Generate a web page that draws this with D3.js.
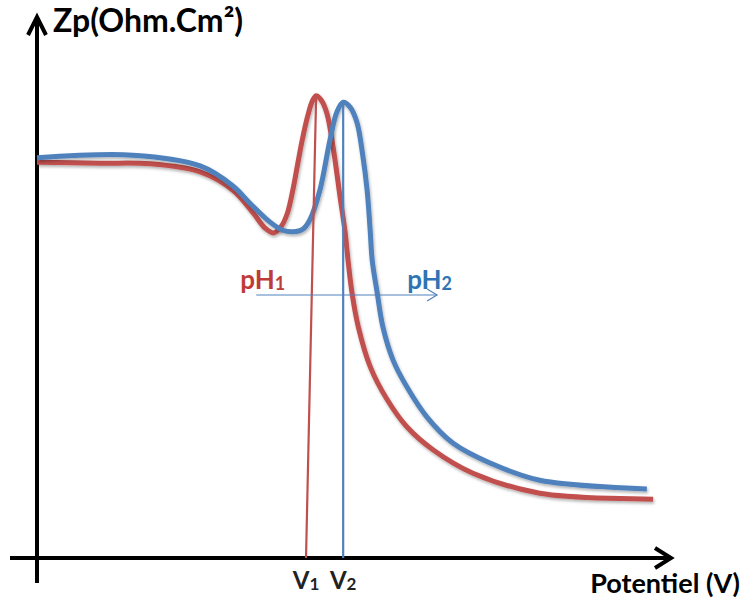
<!DOCTYPE html>
<html><head><meta charset="utf-8">
<script src="https://cdn.jsdelivr.net/npm/d3@7"></script>
<style>body{margin:0;background:#fff}</style></head>
<body>
<svg id="c" width="746" height="603"></svg>
<script>
// ---- data (arbitrary units: potential 0..100, Zp 0..100) ----
const potential_pH1 = [0,10,17.9,25.9,31.1,34.3,36.2,37.5,38.7,39.7,40.6,41.4,42.1,43.0,43.7,44.3,45.1,46.0,47.0,48.1,48.9,49.4,50.0,51.0,52.9,55.6,58.7,62.9,69.2,79.8,97.8];
const zp_pH1        = [73.3,73.1,73.0,71.5,68.1,63.9,61.1,60.2,61.3,63.7,68.1,73.1,77.4,82.0,84.6,85.6,84.8,82.4,76.1,66.9,60.4,54.8,49.1,42.8,35.4,29.3,24.3,20.0,15.7,12.0,10.9];
const potential_pH2 = [0,15.2,25.9,31.1,33.8,37.0,39.0,40.6,42.2,43.3,44.9,46.5,47.6,48.6,49.7,50.8,51.7,52.4,52.9,53.2,54.0,54.9,56.5,58.7,61.9,66.0,71.9,79.8,96.8];
const zp_pH2        = [74.1,74.6,72.6,68.9,65.7,62.2,60.7,60.4,60.9,62.6,68.1,77.4,82.6,84.4,83.5,80.6,74.6,68.1,60.4,55.2,49.1,42.8,36.7,31.7,26.1,21.3,17.6,14.4,12.8];
const markerLabels  = ["V", "V"];
const markerSubs    = ["1", "2"];
const markerBottom  = [42.7, 48.6];   // potential where marker meets axis
const markerTop     = [44.3, 48.6];   // potential of the peak
const markerPeakZp  = [85.6, 84.4];
const seriesNames   = ["pH", "pH"];
const seriesSubs    = ["1", "2"];
const shiftArrow    = [34.8, 63.5];   // pH shift arrow (potential)
const shiftArrowZp  = 48.7;
const axisTitles    = ["Zp(Ohm.Cm²)", "Potentiel (V)"];

const red = "#C0504D", blue = "#4F81BD";
const redText = "#BE3B37", blueText = "#2E74B5";

const svg = d3.select("#c");
const x = d3.scaleLinear().domain([0,100]).range([37,667]);
const y = d3.scaleLinear().domain([0,100]).range([558,18]);

const defs = svg.append("defs");
const f = defs.append("filter").attr("id","sh").attr("x","-10%").attr("y","-10%").attr("width","120%").attr("height","120%");
f.append("feDropShadow").attr("dx",1).attr("dy",2).attr("stdDeviation",1.5).attr("flood-color","#000").attr("flood-opacity",0.3);

const font = "Lato, 'Open Sans', sans-serif";

// axes
const x0 = x(0), y0 = y(0);
svg.append("line").attr("x1",x0).attr("x2",x0).attr("y1",y0+25).attr("y2",y(100)-1)
  .attr("stroke","#000").attr("stroke-width",4);
svg.append("polyline").attr("points",`${x0-9},${y(100)+17} ${x0},${y(100)-1} ${x0+9},${y(100)+17}`)
  .attr("fill","none").attr("stroke","#000").attr("stroke-width",4).attr("stroke-linejoin","miter");
svg.append("line").attr("x1",x0-27).attr("x2",x(100)+3).attr("y1",y0).attr("y2",y0)
  .attr("stroke","#000").attr("stroke-width",4);
svg.append("polyline").attr("points",`${x(100)-12},${y0-10} ${x(100)+4},${y0} ${x(100)-12},${y0+10}`)
  .attr("fill","none").attr("stroke","#000").attr("stroke-width",4);

svg.append("text").attr("x",53).attr("y",32).attr("font-family",font).attr("font-weight",700)
  .attr("font-size",32).attr("fill","#000").text(axisTitles[0]);
svg.append("text").attr("x",740).attr("y",593).attr("text-anchor","end").attr("font-family",font).attr("font-weight",700)
  .attr("font-size",27).attr("fill","#000").text(axisTitles[1]);

// curves
const line = d3.line().x(d=>x(d[0])).y(d=>y(d[1])).curve(d3.curveCatmullRom.alpha(0.5));
const s1 = potential_pH1.map((p,i)=>[p,zp_pH1[i]]);
const s2 = potential_pH2.map((p,i)=>[p,zp_pH2[i]]);
svg.append("path").attr("d",line(s1)).attr("fill","none").attr("stroke",red).attr("stroke-width",5).attr("filter","url(#sh)");
svg.append("path").attr("d",line(s2)).attr("fill","none").attr("stroke",blue).attr("stroke-width",5).attr("filter","url(#sh)");

// marker verticals
const mColors = [red, blue];
markerBottom.forEach((b,i)=>{
  svg.append("line").attr("x1",x(b)).attr("y1",y0).attr("x2",x(markerTop[i])).attr("y2",y(markerPeakZp[i])+2)
    .attr("stroke",mColors[i]).attr("stroke-width",2.2);
  const t = svg.append("text").attr("x",x(b)).attr("y",y0+31).attr("text-anchor","middle")
    .attr("font-family",font).attr("font-weight",700).attr("font-size",24).attr("fill","#222");
  t.append("tspan").text(markerLabels[i]);
  t.append("tspan").attr("font-size",17).attr("dy",1).text(markerSubs[i]);
});

// pH shift arrow
const ax1 = x(shiftArrow[0]), ax2 = x(shiftArrow[1]), ay = y(shiftArrowZp);
svg.append("line").attr("x1",ax1).attr("x2",ax2).attr("y1",ay).attr("y2",ay).attr("stroke",blue).attr("stroke-width",1.2);
svg.append("polyline").attr("points",`${ax2-10},${ay-6} ${ax2},${ay} ${ax2-10},${ay+6}`)
  .attr("fill","none").attr("stroke",blue).attr("stroke-width",1.2);

const lab = [[ax1-16, redText, "start"], [ax2+15, blueText, "end"]];
lab.forEach((l,i)=>{
  const t = svg.append("text").attr("x",l[0]).attr("y",ay-6).attr("text-anchor",l[2])
    .attr("font-family",font).attr("font-weight",700).attr("font-size",26).attr("fill",l[1]);
  t.append("tspan").text(seriesNames[i]);
  t.append("tspan").attr("font-size",18).attr("dy",1).text(seriesSubs[i]);
});
</script>
</body></html>
